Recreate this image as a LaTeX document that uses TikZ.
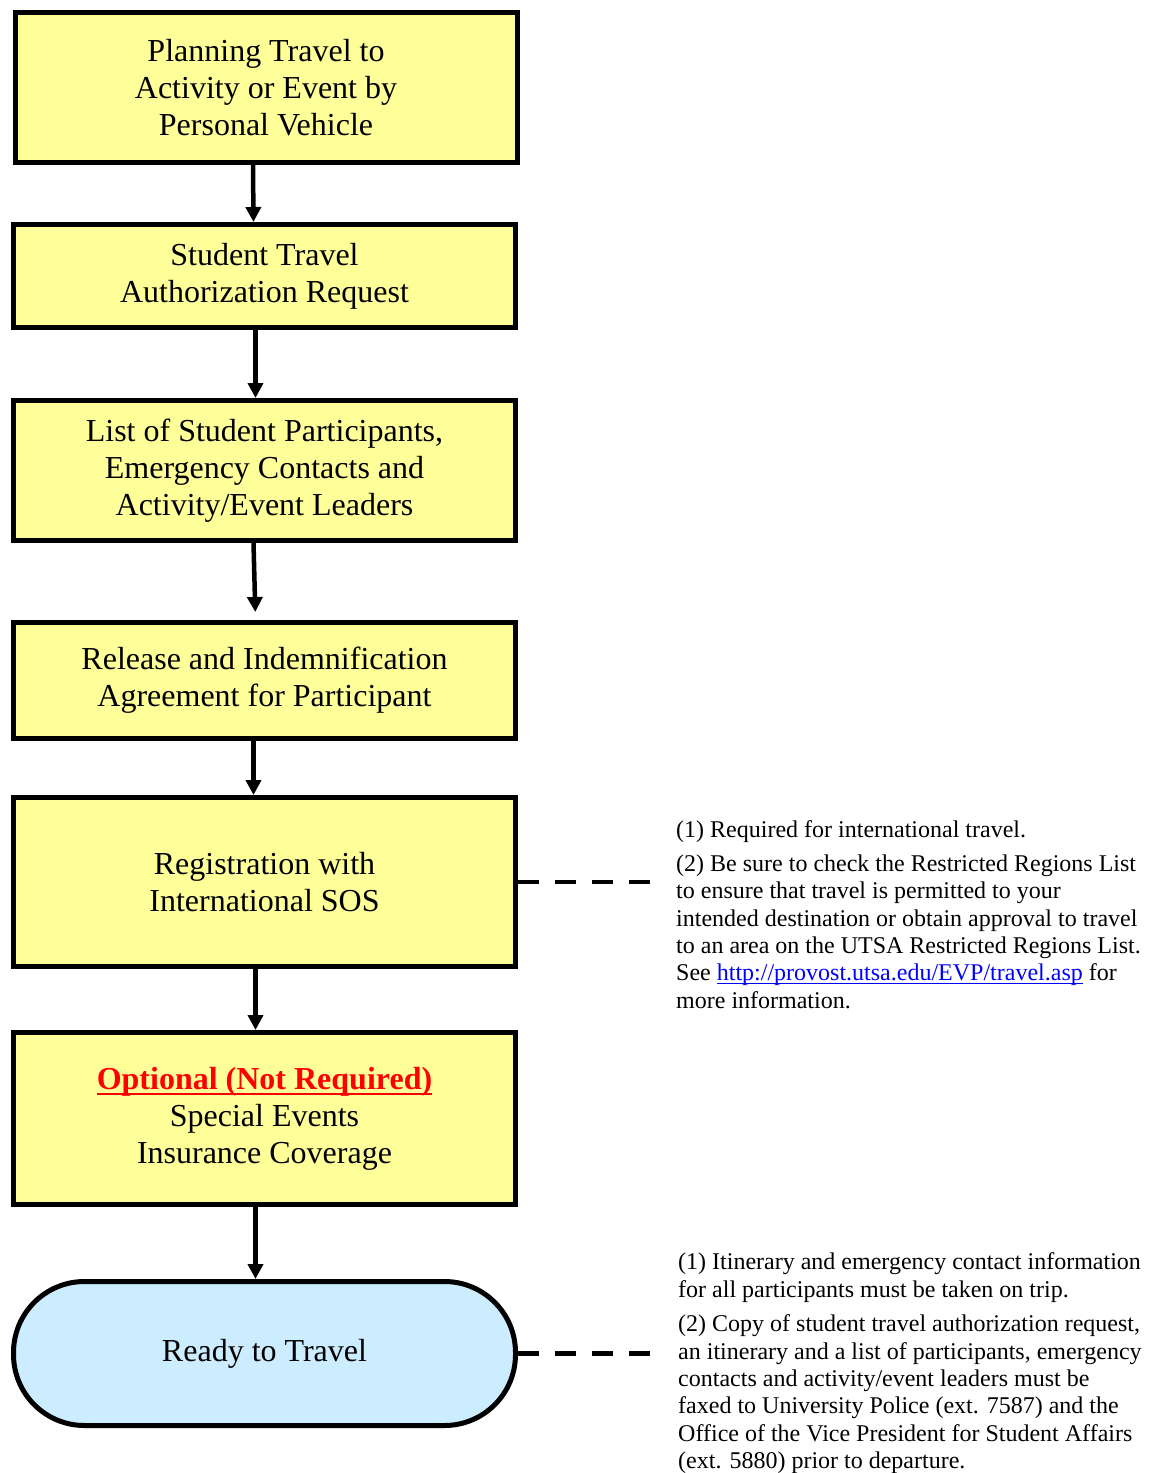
\documentclass[tikz,border=0pt]{standalone}
\usepackage{fontspec}
\setmainfont{Liberation Serif}
\usetikzlibrary{arrows.meta}
\definecolor{boxyellow}{HTML}{FFFF99}
\definecolor{readyblue}{HTML}{CCECFF}
\definecolor{linkblue}{HTML}{0000FF}
\definecolor{optred}{HTML}{FF0000}
\newcommand{\boxfont}{\fontsize{32}{37}\selectfont}
\newcommand{\notefont}{\fontsize{24}{27.4}\selectfont}
\newcommand{\lowline}[3]{\setbox0\hbox{#3}\rlap{\rule[-#1]{\wd0}{#2}}\box0}
\newcommand{\weblink}[1]{\textcolor{linkblue}{\lowline{3.5pt}{1.3pt}{#1}}}
\newcommand{\optmark}[1]{\textcolor{optred}{\bfseries\lowline{6pt}{2.6pt}{#1}}}
\begin{document}
\begin{tikzpicture}[x=1pt,y=-1pt,
  stepbox/.style={draw=black,line width=5pt,fill=boxyellow,minimum width=502pt,align=center,font=\boxfont,inner sep=0pt},
  readybox/.style={stepbox,fill=readyblue,rounded corners=71pt},
  flow/.style={line width=4.5pt,-{Triangle[length=15pt,width=15pt]}},
  notedash/.style={line width=4.5pt,dash pattern=on 21pt off 16pt},
  note/.style={anchor=north west,align=left,font=\notefont,inner sep=0pt}]
\useasboundingbox (0,0) rectangle (1158,1473);
\node[stepbox,minimum height=150pt] (plan) at (266,87.5) {Planning Travel to\\Activity or Event by\\Personal Vehicle};
\node[stepbox,minimum height=103pt] (auth) at (264.5,276) {Student Travel\\Authorization Request};
\node[stepbox,minimum height=140pt] (list) at (264.5,470.5) {List of Student Participants,\\Emergency Contacts and\\Activity/Event Leaders};
\node[stepbox,minimum height=116pt] (release) at (264.5,680.5) {Release and Indemnification\\Agreement for Participant};
\node[stepbox,minimum height=169pt] (sos) at (264.5,882) {Registration with\\International SOS};
\node[stepbox,minimum height=172pt] (insure) at (264.5,1118.5) {\optmark{Optional (Not Required)}\\Special Events\\Insurance Coverage};
\node[readybox,minimum height=144pt] (ready) at (264.5,1353.5) {Ready to Travel};
\draw[flow] ([xshift=-13]plan.south) -- ([xshift=-11]auth.north);
\draw[flow] ([xshift=-9]auth.south) -- ([xshift=-9]list.north);
\draw[flow,shorten >=8pt] ([xshift=-11]list.south) -- ([xshift=-9]release.north);
\draw[flow] ([xshift=-11]release.south) -- ([xshift=-11]sos.north);
\draw[flow] ([xshift=-9]sos.south) -- ([xshift=-9]insure.north);
\draw[flow] ([xshift=-9]insure.south) -- ([xshift=-9]ready.north);
\coordinate (sosend) at (651,882);
\coordinate (readyend) at (653,1353.5);
\draw[notedash] (sos.east) -- (sosend);
\draw[notedash] (ready.east) -- (readyend);
\node[note] (sosa) at (676,820.5) {(1) Required for international travel.};
\node[note] (sosb) at (676,854.5) {(2) Be sure to check the Restricted Regions List\\to ensure that travel is permitted to your\\intended destination or obtain approval to travel\\to an area on the UTSA Restricted Regions List.\\See \weblink{http://provost.utsa.edu/EVP/travel.asp} for\\more information.};
\node[note] (readya) at (678,1252.5) {(1) Itinerary and emergency contact information\\for all participants must be taken on trip.};
\node[note] (readyb) at (678,1314.5) {(2) Copy of student travel authorization request,\\an itinerary and a list of participants, emergency\\contacts and activity/event leaders must be\\faxed to University Police (ext. 7587) and the\\Office of the Vice President for Student Affairs\\(ext. 5880) prior to departure.};
\end{tikzpicture}
\end{document}
